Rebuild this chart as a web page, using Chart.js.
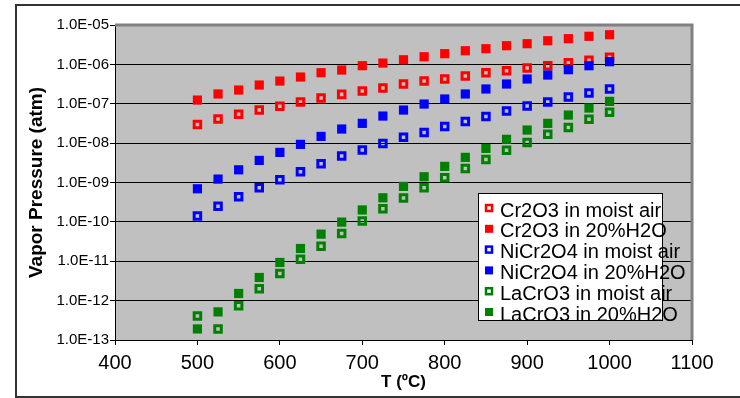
<!DOCTYPE html>
<html>
<head>
<meta charset="utf-8">
<script src="https://cdn.jsdelivr.net/npm/chart.js@4/dist/chart.umd.min.js"></script>
<style>
  body { margin: 0; background: #fff; }
  #wrap { width: 740px; height: 398px; }
</style>
</head>
<body>
<div id="wrap"><canvas id="chart" width="740" height="398"></canvas></div>
<script>
// DATA
const temps = [500, 525, 550, 575, 600, 625, 650, 675, 700, 725, 750, 775, 800, 825, 850, 875, 900, 925, 950, 975, 1000];

const cr2o3Moist = [2.99e-8, 4.08e-8, 5.38e-8, 6.92e-8, 8.59e-8, 1.10e-7, 1.40e-7, 1.73e-7, 2.10e-7, 2.51e-7, 3.17e-7,
  3.77e-7, 4.25e-7, 5.06e-7, 6.14e-7, 6.90e-7, 8.07e-7, 9.25e-7, 1.10e-6, 1.27e-6, 1.51e-6];
const cr2o3Water = [1.24e-7, 1.77e-7, 2.23e-7, 2.99e-7, 3.77e-7, 4.77e-7, 6.14e-7, 7.18e-7, 9.25e-7, 1.08e-6, 1.31e-6,
  1.56e-6, 1.87e-6, 2.22e-6, 2.50e-6, 2.98e-6, 3.35e-6, 3.99e-6, 4.49e-6, 5.16e-6, 5.67e-6];
const nicr2o4Moist = [1.40e-10, 2.51e-10, 4.33e-10, 7.33e-10, 1.17e-9, 1.87e-9, 2.99e-9, 4.69e-9, 6.65e-9, 9.8e-9, 1.40e-8,
  1.87e-8, 2.66e-8, 3.56e-8, 4.77e-8, 6.51e-8, 8.74e-8, 1.10e-7, 1.48e-7, 1.87e-7, 2.37e-7];
const nicr2o4Water = [6.92e-10, 1.22e-9, 2.10e-9, 3.64e-9, 5.82e-9, 9.3e-9, 1.48e-8, 2.28e-8, 3.18e-8, 4.87e-8, 6.92e-8,
  9.83e-8, 1.32e-7, 1.77e-7, 2.37e-7, 3.17e-7, 4.25e-7, 5.36e-7, 7.33e-7, 9.25e-7, 1.17e-6];
const lacro3Moist = [4.09e-13, 1.91e-13, 7.36e-13, 1.99e-12, 4.90e-12, 1.13e-11, 2.42e-11, 5.08e-11, 1.06e-10, 2.15e-10, 4.02e-10,
  7.33e-10, 1.32e-9, 2.28e-9, 3.86e-9, 6.55e-9, 1.04e-8, 1.67e-8, 2.51e-8, 4.02e-8, 6.04e-8];
const lacro3Water = [1.91e-13, 5.18e-13, 1.52e-12, 3.87e-12, 9.31e-12, 2.11e-11, 4.88e-11, 9.86e-11, 2.01e-10, 4.09e-10, 7.96e-10,
  1.40e-9, 2.57e-9, 4.35e-9, 7.36e-9, 1.25e-8, 2.15e-8, 3.18e-8, 5.16e-8, 7.78e-8, 1.15e-7];

const yTicks = [1e-13, 1e-12, 1e-11, 1e-10, 1e-9, 1e-8, 1e-7, 1e-6, 1e-5];
const xTicks = [400, 500, 600, 700, 800, 900, 1000, 1100];

const FONT = '"Liberation Sans", Arial, sans-serif';

function pts(vals) {
  return temps.map((t, i) => ({ x: t, y: vals[i] }));
}

function series(label, vals, color, open, idx) {
  return {
    label: label,
    data: pts(vals),
    showLine: false,
    pointStyle: 'rect',
    pointRadius: open ? 4.6 : 6.5,
    pointBorderWidth: open ? 3 : 0,
    pointBackgroundColor: open ? 'rgba(0,0,0,0)' : color,
    pointBorderColor: color,
    borderColor: color,
    backgroundColor: color,
    open: open,
    order: -idx
  };
}

const datasets = [
  series('Cr2O3 in moist air', cr2o3Moist, '#ff0000', true, 0),
  series('Cr2O3 in 20%H2O', cr2o3Water, '#ff0000', false, 1),
  series('NiCr2O4 in moist air', nicr2o4Moist, '#0000ff', true, 2),
  series('NiCr2O4 in 20%H2O', nicr2o4Water, '#0000ff', false, 3),
  series('LaCrO3 in moist air', lacro3Moist, '#008000', true, 4),
  series('LaCrO3 in 20%H2O', lacro3Water, '#008000', false, 5)
];

function fmtExp(v) {
  const e = Math.round(Math.log10(v));
  return '1.0E' + (e < 0 ? '-' : '+') + String(Math.abs(e)).padStart(2, '0');
}

// plot background, frame and the legend box
const decor = {
  id: 'decor',
  beforeDraw(chart) {
    const { ctx, chartArea: a } = chart;
    ctx.save();
    ctx.fillStyle = '#fff';
    ctx.fillRect(0, 0, chart.width, chart.height);
    ctx.fillStyle = '#c0c0c0';
    ctx.fillRect(a.left, a.top, a.right - a.left, a.bottom - a.top);
    ctx.restore();
  },
  beforeDatasetsDraw(chart) {
    const { ctx, chartArea: a } = chart;
    ctx.save();
    ctx.strokeStyle = '#808080';
    ctx.lineWidth = 3;
    ctx.beginPath();
    ctx.moveTo(a.left, a.top);
    ctx.lineTo(a.right, a.top);
    ctx.lineTo(a.right, a.bottom);
    ctx.stroke();
    ctx.restore();
  },
  afterDraw(chart) {
    const ctx = chart.ctx;
    ctx.save();
    // legend
    const lx = 478, ly = 193, lw = 184, lh = 127;
    ctx.fillStyle = '#fff';
    ctx.fillRect(lx, ly, lw, lh);
    ctx.strokeStyle = '#000';
    ctx.lineWidth = 1;
    ctx.strokeRect(lx + 0.5, ly + 0.5, lw, lh);
    ctx.font = '20px ' + FONT;
    ctx.textBaseline = 'middle';
    ctx.textAlign = 'left';
    chart.data.datasets.forEach((ds, i) => {
      const cy = 210 + i * 20.8;
      if (ds.open) {
        ctx.strokeStyle = ds.borderColor;
        ctx.lineWidth = 2.5;
        ctx.strokeRect(486, cy - 5, 6, 6);
      } else {
        ctx.fillStyle = ds.backgroundColor;
        ctx.fillRect(485, cy - 6, 8, 8);
      }
      ctx.fillStyle = '#000';
      ctx.fillText(ds.label, 500, cy + 1);
    });
    // outer chart border
    ctx.strokeStyle = '#333';
    ctx.lineWidth = 2;
    ctx.strokeRect(16, 5, 800, 392);
    ctx.restore();
  }
};

new Chart(document.getElementById('chart'), {
  type: 'scatter',
  data: { datasets: datasets },
  options: {
    responsive: false,
    animation: false,
    devicePixelRatio: 1,
    events: [],
    layout: { padding: { left: 0, right: 48, top: 25, bottom: 0 } },
    plugins: { legend: { display: false }, tooltip: { enabled: false } },
    scales: {
      x: {
        type: 'linear',
        position: 'bottom',
        min: 400,
        max: 1100,
        afterBuildTicks: s => { s.ticks = xTicks.map(v => ({ value: v })); },
        afterFit: s => { s.height = 58; },
        ticks: { color: '#000', font: { family: FONT, size: 20 }, padding: 6, autoSkip: false, maxRotation: 0, callback: v => String(v) },
        grid: { drawOnChartArea: false, color: '#000', tickLength: 5 },
        border: { color: '#000', width: 1 },
        title: { display: true, text: 'T (ºC)', color: '#000', font: { family: FONT, size: 17, weight: 'bold' }, padding: { top: 0, bottom: 5 } }
      },
      y: {
        type: 'logarithmic',
        min: 1e-13,
        max: 1e-5,
        afterBuildTicks: s => { s.ticks = yTicks.map(v => ({ value: v })); },
        afterFit: s => { s.width = 115; },
        ticks: { color: '#000', font: { family: FONT, size: 15 }, padding: 1, autoSkip: false, callback: v => fmtExp(v) },
        grid: { color: '#000', lineWidth: 1, tickLength: 5 },
        border: { color: '#000', width: 1 },
        title: { display: true, text: 'Vapor Pressure (atm)', color: '#000', font: { family: FONT, size: 19, weight: 'bold' }, padding: { top: 25, bottom: 0 } }
      }
    }
  },
  plugins: [decor]
});
</script>
</body>
</html>
